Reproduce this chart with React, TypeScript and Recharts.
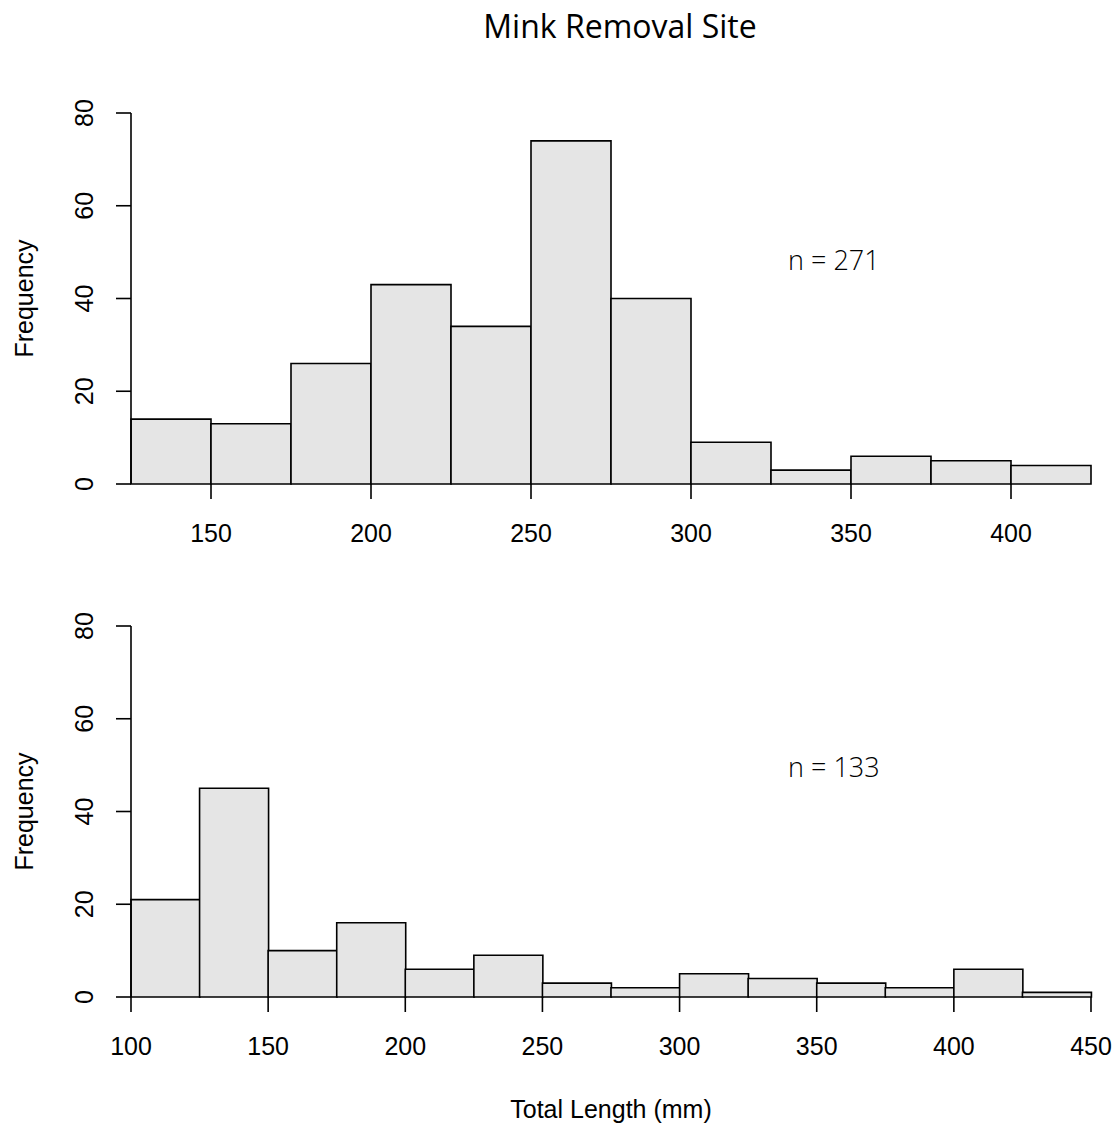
import React from "react";
import { BarChart, Bar, XAxis, YAxis } from "recharts";

// bin start (mm) and counts
const topBins = [125, 150, 175, 200, 225, 250, 275, 300, 325, 350, 375, 400];
const topCounts = [14, 13, 26, 43, 34, 74, 40, 9, 3, 6, 5, 4];
const topTicks = [150, 200, 250, 300, 350, 400];

const bottomBins = [100, 125, 150, 175, 200, 225, 250, 275, 300, 325, 350, 375, 400, 425];
const bottomCounts = [21, 45, 10, 16, 6, 9, 3, 2, 5, 4, 3, 2, 6, 1];
const bottomTicks = [100, 150, 200, 250, 300, 350, 400, 450];

const freqTicks = [0, 20, 40, 60, 80];

const TITLE = "Mink Removal Site";
const X_LABEL = "Total Length (mm)";
const Y_LABEL = "Frequency";
const topN = "n = 271";
const bottomN = "n = 133";

const AXIS_FONT = "'Liberation Sans', Arial, sans-serif";
const NOTE_FONT = "'Open Sans', 'Noto Sans', sans-serif";
const INK = "#000";
const LW = 1.6;

const W = 1117;
const H = 560;
const MARGIN = { top: 113, right: 26, left: 71, bottom: 16 };

const XTick = (props: any) => {
  const { x, y, payload } = props;
  return (
    <text x={x} y={y + 43} textAnchor="middle" fontSize={25} fontFamily={AXIS_FONT} fill={INK}>
      {payload.value}
    </text>
  );
};

const YTick = (props: any) => {
  const { x, y, payload } = props;
  const bx = x - 23;
  return (
    <text
      x={bx}
      y={y}
      transform={`rotate(-90 ${bx} ${y})`}
      textAnchor="middle"
      fontSize={25}
      fontFamily={AXIS_FONT}
      fill={INK}
    >
      {payload.value}
    </text>
  );
};

function Hist({ bins, counts, domain, ticks }: { bins: number[]; counts: number[]; domain: [number, number]; ticks: number[] }) {
  const data = bins.map((start, i) => ({ start, count: counts[i] }));
  return (
    <BarChart width={W} height={H} data={data} margin={MARGIN} barCategoryGap={0} barGap={0}>
      <XAxis xAxisId="bins" dataKey="start" type="category" hide height={0} />
      <XAxis
        xAxisId="len"
        dataKey="start"
        type="number"
        domain={domain}
        allowDataOverflow
        ticks={ticks}
        interval={0}
        height={60}
        axisLine={false}
        tickSize={15}
        tickMargin={0}
        tickLine={{ stroke: INK, strokeWidth: LW }}
        tick={<XTick />}
      />
      <YAxis
        domain={[0, 80]}
        ticks={freqTicks}
        interval={0}
        width={60}
        tickSize={15}
        tickMargin={0}
        axisLine={{ stroke: INK, strokeWidth: LW }}
        tickLine={{ stroke: INK, strokeWidth: LW }}
        tick={<YTick />}
      />
      <Bar xAxisId="bins" dataKey="count" fill="#e5e5e5" stroke={INK} strokeWidth={LW} isAnimationActive={false} />
    </BarChart>
  );
}

export default function App() {
  return (
    <div style={{ position: "absolute", left: 0, top: 0, width: W, height: 1127, background: "#fff" }}>
      <div style={{ position: "absolute", left: 0, top: 0 }}>
        <Hist bins={topBins} counts={topCounts} domain={[125, 425]} ticks={topTicks} />
      </div>
      <div style={{ position: "absolute", left: 0, top: 513 }}>
        <Hist bins={bottomBins} counts={bottomCounts} domain={[100, 450]} ticks={bottomTicks} />
      </div>
      <svg width={W} height={1127} style={{ position: "absolute", left: 0, top: 0, pointerEvents: "none" }}>
        <text x={620} y={38} textAnchor="middle" fontSize={32} fontFamily={NOTE_FONT} fill={INK}>
          {TITLE}
        </text>
        <text x={788} y={270} fontSize={27} fontWeight={300} fontFamily={NOTE_FONT} fill={INK}>
          {topN}
        </text>
        <text x={788} y={777} fontSize={27} fontWeight={300} fontFamily={NOTE_FONT} fill={INK}>
          {bottomN}
        </text>
        <text x={33} y={298.5} transform="rotate(-90 33 298.5)" textAnchor="middle" fontSize={25} fontFamily={AXIS_FONT} fill={INK}>
          {Y_LABEL}
        </text>
        <text x={33} y={811.5} transform="rotate(-90 33 811.5)" textAnchor="middle" fontSize={25} fontFamily={AXIS_FONT} fill={INK}>
          {Y_LABEL}
        </text>
        <text x={611} y={1118} textAnchor="middle" fontSize={25} fontFamily={AXIS_FONT} fill={INK}>
          {X_LABEL}
        </text>
      </svg>
    </div>
  );
}
